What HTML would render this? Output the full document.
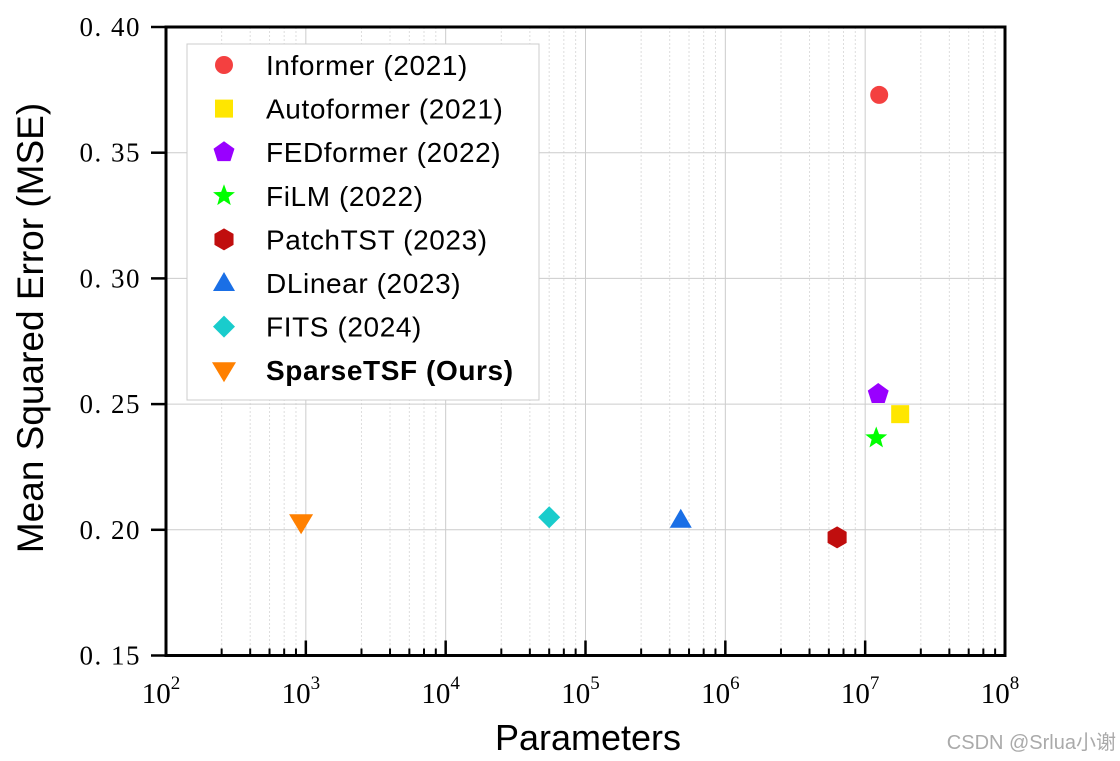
<!DOCTYPE html>
<html><head><meta charset="utf-8"><style>
body{margin:0;background:#fff;width:1120px;height:761px;overflow:hidden}
svg{display:block}
</style></head><body>
<svg id="chart" width="1120" height="761" xmlns="http://www.w3.org/2000/svg">
<g id="grid"></g>
<g id="marks"></g>
<g id="axes"></g>
<g id="legend"></g>
<text x="588" y="750" text-anchor="middle" font-family="Liberation Sans, sans-serif" font-size="36">Parameters</text>
<text transform="translate(43,328) rotate(-90)" text-anchor="middle" font-family="Liberation Sans, sans-serif" font-size="37">Mean Squared Error (MSE)</text>
<text x="1116" y="749" text-anchor="end" font-family="Liberation Sans, Noto Sans CJK SC, sans-serif" font-size="20" fill="#aaa">CSDN @Srlua小谢</text>
</svg>
<script>
const models=["Informer (2021)","Autoformer (2021)","FEDformer (2022)","FiLM (2022)","PatchTST (2023)","DLinear (2023)","FITS (2024)","SparseTSF (Ours)"];
const params=[12600000,17800000,12400000,12000000,6300000,480000,55000,925];
const mse=[0.373,0.246,0.254,0.2365,0.197,0.204,0.205,0.203];
const colors=["#f44040","#ffe600","#9900ff","#00ff00","#c00e0e","#1a6fe6","#19cccc","#ff8000"];
const shapes=["circle","square","pentagon","star","hexagon","triangle","diamond","tridown"];
const yTicks=[0.15,0.20,0.25,0.30,0.35,0.40];
const yTickLabels=["0. 15","0. 20","0. 25","0. 30","0. 35","0. 40"];
const xDecades=[2,3,4,5,6,7,8];
const minorMult=[2.5,4,5.5,7,8.5];

const NS="http://www.w3.org/2000/svg";
const X0=166,X1=1005,Y0=655.5,Y1=27;
const xs=v=>X0+(Math.log10(v)-2)/6*(X1-X0);
const ys=v=>Y0-(v-0.15)/0.25*(Y0-Y1);
function mk(t,a,p){const e=document.createElementNS(NS,t);for(const k in a)e.setAttribute(k,a[k]);p.appendChild(e);return e;}
const grid=document.getElementById('grid'),axes=document.getElementById('axes'),marks=document.getElementById('marks'),leg=document.getElementById('legend');
for(const d of xDecades){
  const x=xs(Math.pow(10,d));
  if(d>2&&d<8){const g=mk('line',{x1:x,x2:x,y1:Y1,y2:Y0,stroke:'#ccc','stroke-width':1},grid);
  }
  if(d<8)for(const m of minorMult){const xm=xs(m*Math.pow(10,d));
    const g=mk('line',{x1:xm,x2:xm,y1:Y1,y2:Y0,stroke:'#ddd','stroke-width':1,'stroke-dasharray':'2,2'},grid);
    
    const t=mk('line',{x1:xm,x2:xm,y1:Y0,y2:Y0-7,stroke:'#000','stroke-width':2},axes);
    }
  const t=mk('line',{x1:x,x2:x,y1:Y0,y2:Y0-15,stroke:'#000','stroke-width':2.5},axes);
  
  const lb=mk('text',{x:x-5,y:703,'text-anchor':'middle','font-family':'Liberation Serif, serif','font-size':29},axes);
  
  lb.textContent='10';const s=mk('tspan',{dy:-14,'font-size':19},lb);s.textContent=String(d);
}
yTicks.forEach((v,i)=>{const y=ys(v);
  if(i>0&&i<yTicks.length-1){const g=mk('line',{x1:X0,x2:X1,y1:y,y2:y,stroke:'#ccc','stroke-width':1},grid);
  }
  const t=mk('line',{x1:X0-15,x2:X0,y1:y,y2:y,stroke:'#000','stroke-width':2.5},axes);
  
  const lb=mk('text',{x:141,y:y+9,'text-anchor':'end','font-family':'Liberation Serif, serif','font-size':27,'letter-spacing':1.5},axes);
  
  lb.textContent=yTickLabels[i];
});
const fr=mk('rect',{x:X0,y:Y1,width:X1-X0,height:Y0-Y1,fill:'none',stroke:'#000','stroke-width':3},axes);

function poly(n,r,rot){let p=[];for(let k=0;k<n;k++){const a=rot+k*2*Math.PI/n;p.push((r*Math.cos(a)).toFixed(2)+','+(r*Math.sin(a)).toFixed(2));}return p.join(' ');}
function star(r){let p=[];for(let k=0;k<10;k++){const a=-Math.PI/2+k*Math.PI/5;const rr=k%2?r*0.42:r;p.push((rr*Math.cos(a)).toFixed(2)+','+(rr*Math.sin(a)).toFixed(2));}return p.join(' ');}
function marker(shape,cx,cy,col,parent){
  const g=mk('g',{transform:`translate(${cx},${cy})`,fill:col},parent);
  if(shape==='circle')mk('circle',{r:9},g);
  else if(shape==='square')mk('rect',{x:-9,y:-9,width:18,height:18},g);
  else if(shape==='pentagon')mk('polygon',{points:poly(5,11,-Math.PI/2)},g);
  else if(shape==='star')mk('polygon',{points:star(11.5)},g);
  else if(shape==='hexagon')mk('polygon',{points:poly(6,11,-Math.PI/2)},g);
  else if(shape==='triangle')mk('polygon',{points:'0,-11 11,8 -11,8'},g);
  else if(shape==='diamond')mk('polygon',{points:'0,-11 11,0 0,11 -11,0'},g);
  else if(shape==='tridown')mk('polygon',{points:'-12,-8 12,-8 0,12'},g);
  return g;
}
models.forEach((m,i)=>{
  const g=marker(shapes[i],xs(params[i]),ys(mse[i]),colors[i],marks);
  
  
});
const lr=mk('rect',{x:187,y:44,width:352,height:356,fill:'#fff',stroke:'#ccc','stroke-width':1},leg);

models.forEach((m,i)=>{const y=65+i*43.6;
  const g=mk('g',{},leg);
  
  marker(shapes[i],224,y,colors[i],g);
  const t=mk('text',{x:266,y:y+10,'font-family':'Liberation Sans, sans-serif','font-size':28,'letter-spacing':0.6,'font-weight':i===7?'bold':'normal'},g);
  t.textContent=m;
});
</script>
</body></html>
